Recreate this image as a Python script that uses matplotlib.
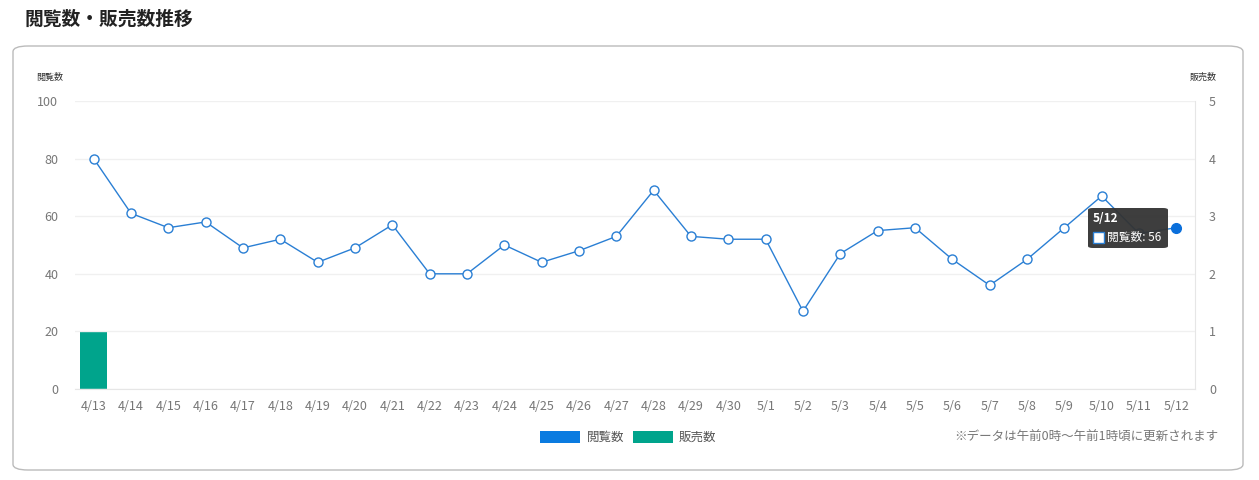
import matplotlib
matplotlib.use("Agg")
import matplotlib.pyplot as plt
from matplotlib.patches import FancyBboxPatch, Rectangle

plt.rcParams['font.family'] = ['Noto Sans CJK JP', 'DejaVu Sans']

dates = ["4/13","4/14","4/15","4/16","4/17","4/18","4/19","4/20","4/21","4/22",
         "4/23","4/24","4/25","4/26","4/27","4/28","4/29","4/30","5/1","5/2",
         "5/3","5/4","5/5","5/6","5/7","5/8","5/9","5/10","5/11","5/12"]
views = [80,61,56,58,49,52,44,49,57,40,40,50,44,48,53,69,53,52,52,27,
         47,55,56,45,36,45,56,67,54,56]
sales = [1,0,0,0,0,0,0,0,0,0,0,0,0,0,0,0,0,0,0,0,0,0,0,0,0,0,0,0,0,0]

W, H = 1259, 480
fig = plt.figure(figsize=(W/100, H/100), dpi=100)
fig.patch.set_facecolor('white')

fig.text(24/W, 1-19/H, "閲覧数・販売数推移", fontsize=13.5, fontweight='bold',
         color='#222222', va='center', ha='left')
fig.patches.append(FancyBboxPatch((13/W, 1-470/H), (1243-13)/W, (470-46)/H,
    boxstyle="round,pad=0,rounding_size=0.012", transform=fig.transFigure,
    facecolor='none', edgecolor='#bbbbbb', lw=1))

ax = fig.add_axes([75/W, 1-389/H, (1195-75)/W, (389-101)/H])
ax2 = ax.twinx()
x = list(range(len(dates)))
ax2.bar(x, sales, width=0.72, color='#00a48c', zorder=1)
ax2.set_ylim(0, 5)
ax2.set_yticks(range(6))
ax.set_zorder(ax2.get_zorder()+1)
ax.patch.set_visible(False)

ax.plot(x[:-1], views[:-1], color='#2a7fd4', lw=1, marker='o', ms=6.5,
        mfc='white', mec='#2a7fd4', mew=1, zorder=3)
ax.plot(x[-2:], views[-2:], color='#2a7fd4', lw=1, zorder=3)
ax.plot(x[-1], views[-1], marker='o', ms=7, color='#0a6fdb', zorder=4)
ax.set_ylim(0, 100)
ax.set_xlim(-0.5, len(dates)-0.5)
ax.set_yticks(range(0, 101, 20))
ax.set_xticks(x)
ax.set_xticklabels(dates)
ax.grid(axis='y', color='#f0f0f0', lw=1)
for a in (ax, ax2):
    for s in a.spines.values():
        s.set_visible(False)
    a.tick_params(length=0, labelsize=9, colors='#777777')
ax.spines['bottom'].set_visible(True)
ax.spines['bottom'].set_color('#e6e6e6')
ax2.spines['right'].set_visible(True)
ax2.spines['right'].set_color('#e6e6e6')
ax.tick_params(axis='y', pad=12)
ax.tick_params(axis='x', pad=8)
ax2.tick_params(axis='y', pad=10)

fig.text(50/W, 1-77/H, "閲覧数", fontsize=6.5, color='#333333', ha='center', va='center')
fig.text(1203/W, 1-77/H, "販売数", fontsize=6.5, color='#333333', ha='center', va='center')

# tooltip
fig.patches.append(FancyBboxPatch((1088/W, 1-248/H), 80/W, 40/H,
    boxstyle="round,pad=0,rounding_size=0.004", transform=fig.transFigure,
    facecolor='#333333', edgecolor='none', alpha=0.95, zorder=10))
fig.text(1093/W, 1-218/H, "5/12", fontsize=8.5, fontweight='bold', color='white',
         va='center', zorder=11)
fig.patches.append(Rectangle((1093/W, 1-243/H), 11/W, 11/H, transform=fig.transFigure,
    facecolor='white', edgecolor='#2a7fd4', lw=1, zorder=11))
fig.text(1107/W, 1-237/H, "閲覧数: 56", fontsize=8.5, color='white', va='center', zorder=11)

# legend
fig.patches.append(Rectangle((540/W, 1-443/H), 40/W, 12/H, transform=fig.transFigure,
    facecolor='#0a7be0', edgecolor='none'))
fig.text(587/W, 1-437/H, "閲覧数", fontsize=9, color='#555555', va='center')
fig.patches.append(Rectangle((633/W, 1-443/H), 40/W, 12/H, transform=fig.transFigure,
    facecolor='#00a48c', edgecolor='none'))
fig.text(679/W, 1-437/H, "販売数", fontsize=9, color='#555555', va='center')
fig.text(1218/W, 1-437/H, "※データは午前0時〜午前1時頃に更新されます", fontsize=9,
         color='#777777', va='center', ha='right')

fig.savefig("out.png", dpi=100)
